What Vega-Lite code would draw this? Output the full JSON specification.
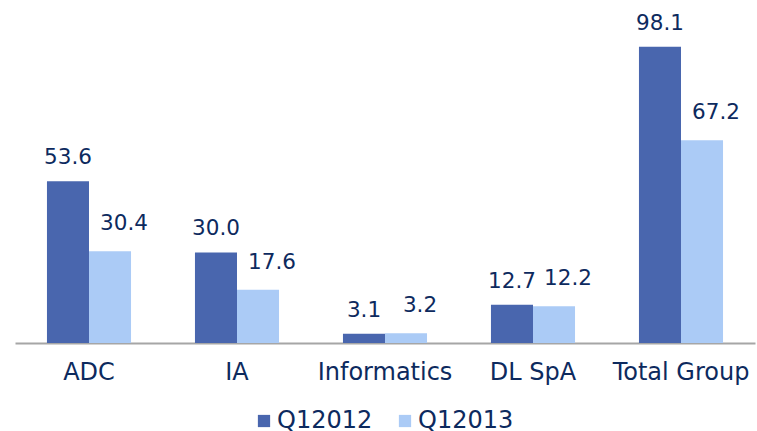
{
  "$schema": "https://vega.github.io/schema/vega-lite/v6.json",
  "width": 740,
  "height": 323,
  "autosize": {"type": "none"},
  "padding": {"left": 15, "top": 20, "right": 2, "bottom": 88},
  "background": "#ffffff",
  "config": {"view": {"stroke": null}, "font": "DejaVu Sans"},
  "data": {"values": [
    {"segment": "ADC", "period": "Q12012", "value": 53.6},
    {"segment": "ADC", "period": "Q12013", "value": 30.4},
    {"segment": "IA", "period": "Q12012", "value": 30.0},
    {"segment": "IA", "period": "Q12013", "value": 17.6},
    {"segment": "Informatics", "period": "Q12012", "value": 3.1},
    {"segment": "Informatics", "period": "Q12013", "value": 3.2},
    {"segment": "DL SpA", "period": "Q12012", "value": 12.7},
    {"segment": "DL SpA", "period": "Q12013", "value": 12.2},
    {"segment": "Total Group", "period": "Q12012", "value": 98.1},
    {"segment": "Total Group", "period": "Q12013", "value": 67.2}
  ]},
  "encoding": {
    "x": {"field": "segment", "type": "nominal", "sort": null,
      "scale": {"paddingInner": 0.432, "paddingOuter": 0.216},
      "axis": {"title": null, "labelAngle": 0, "ticks": false, "domainColor": "#a6a6a6", "domainWidth": 2,
        "labelFontSize": 24, "labelColor": "#0d2a5e", "labelPadding": 17}},
    "xOffset": {"field": "period", "type": "nominal", "scale": {"paddingInner": 0, "paddingOuter": 0}},
    "y": {"field": "value", "type": "quantitative", "scale": {"domain": [0, 107], "nice": false}, "axis": null}
  },
  "layer": [
    {"mark": {"type": "bar", "clip": false},
     "encoding": {
       "color": {"field": "period", "type": "nominal",
         "scale": {"domain": ["Q12012", "Q12013"], "range": ["#4966ae", "#abcbf6"]},
         "legend": {"title": null, "orient": "none", "direction": "horizontal", "legendX": 237, "legendY": 389,
           "padding": 0, "symbolType": "square", "symbolSize": 150, "symbolStrokeWidth": 0, "symbolOpacity": 1,
           "labelFontSize": 24, "labelColor": "#0d2a5e", "labelOffset": 1, "columnPadding": 20}}}},
    {"transform": [{"filter": "datum.period == 'Q12012'"}],
     "mark": {"type": "text", "baseline": "alphabetic", "dy": -17, "fontSize": 21.5, "color": "#0d2a5e"},
     "encoding": {"text": {"field": "value", "type": "quantitative", "format": ".1f"}}},
    {"transform": [{"filter": "datum.period == 'Q12013'"}],
     "mark": {"type": "text", "baseline": "alphabetic", "dy": -21, "dx": 14, "fontSize": 21.5, "color": "#0d2a5e"},
     "encoding": {"text": {"field": "value", "type": "quantitative", "format": ".1f"}}}
  ]
}
